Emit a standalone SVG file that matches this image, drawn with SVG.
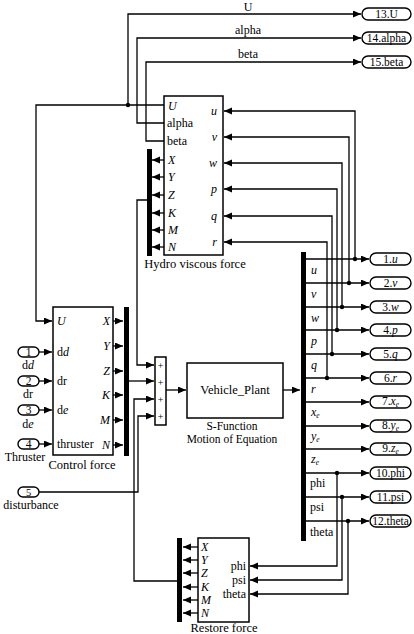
<svg xmlns="http://www.w3.org/2000/svg" width="414" height="634" viewBox="0 0 414 634">
<style>
text{font-family:"Liberation Serif","Times New Roman",serif;font-size:12px;fill:#000}
.it{font-style:italic}
.c{text-anchor:middle}
.e{text-anchor:end}
.cap{font-size:12.5px}
.cap2{font-size:11.5px}
.ov{font-size:11.5px}
.sub{font-size:7.5px}
.ln{stroke:#000;stroke-width:1.3;fill:none}
.ar{marker-end:url(#ah)}
.blk{fill:#fff;stroke:#000;stroke-width:1.5}
.oval{fill:#fff;stroke:#000;stroke-width:1.4}
.bar{fill:#000}
.dot{fill:#000}
</style>
<defs>
<marker id="ah" markerUnits="userSpaceOnUse" markerWidth="9" markerHeight="8" refX="8" refY="3.5" orient="auto">
<path d="M0,0 L8,3.5 L0,7 z" fill="#000"/>
</marker>
</defs>
<rect width="414" height="634" fill="#fff"/>

<g id="connectors">
<path class="ln ar" d="M164,105 H128 V14 H361"/>
<path class="ln ar" d="M128,105 H36 V321 H52"/>
<path class="ln ar" d="M164,123 H137 V38 H361"/>
<path class="ln ar" d="M164,141 H146 V62 H361"/>
<circle class="dot" cx="128" cy="105" r="2.2"/>
<path class="ln ar" d="M164,160 H152"/>
<path class="ln ar" d="M164,177 H152"/>
<path class="ln ar" d="M164,195 H152"/>
<path class="ln ar" d="M164,213 H152"/>
<path class="ln ar" d="M164,230 H152"/>
<path class="ln ar" d="M164,247 H152"/>
<path class="ln ar" d="M147,200 H137 V365 H154"/>
<path class="ln ar" d="M129,381 H154"/>
<path class="ln ar" d="M177,581 H134 V399 H154"/>
<path class="ln ar" d="M39,492 H138 V416 H154"/>
<path class="ln ar" d="M39,352 H52"/>
<path class="ln ar" d="M39,381 H52"/>
<path class="ln ar" d="M39,410 H52"/>
<path class="ln ar" d="M39,444 H52"/>
<path class="ln ar" d="M113,321 H123"/>
<path class="ln ar" d="M113,346 H123"/>
<path class="ln ar" d="M113,371 H123"/>
<path class="ln ar" d="M113,395 H123"/>
<path class="ln ar" d="M113,420 H123"/>
<path class="ln ar" d="M113,445 H123"/>
<path class="ln ar" d="M166,390 H186"/>
<path class="ln ar" d="M283,390 H300"/>
<path class="ln ar" d="M306,259 H369"/>
<path class="ln ar" d="M306,283 H369"/>
<path class="ln ar" d="M306,307 H369"/>
<path class="ln ar" d="M306,330 H369"/>
<path class="ln ar" d="M306,354 H369"/>
<path class="ln ar" d="M306,378 H369"/>
<path class="ln ar" d="M306,402 H369"/>
<path class="ln ar" d="M306,426 H369"/>
<path class="ln ar" d="M306,449 H369"/>
<path class="ln ar" d="M306,473 H369"/>
<path class="ln ar" d="M306,497 H369"/>
<path class="ln ar" d="M306,521 H369"/>
<path class="ln ar" d="M355,259 V111 H224"/>
<path class="ln ar" d="M349,283 V137 H224"/>
<path class="ln ar" d="M342,307 V163 H224"/>
<path class="ln ar" d="M337,330 V189 H224"/>
<path class="ln ar" d="M332,354 V216 H224"/>
<path class="ln ar" d="M327,378 V242 H224"/>
<circle class="dot" cx="355" cy="259" r="2.2"/>
<circle class="dot" cx="349" cy="283" r="2.2"/>
<circle class="dot" cx="342" cy="307" r="2.2"/>
<circle class="dot" cx="337" cy="330" r="2.2"/>
<circle class="dot" cx="332" cy="354" r="2.2"/>
<circle class="dot" cx="327" cy="378" r="2.2"/>
<path class="ln ar" d="M337,473 V566 H250"/>
<path class="ln ar" d="M342,497 V580 H250"/>
<path class="ln ar" d="M348,521 V594 H250"/>
<circle class="dot" cx="337" cy="473" r="2.2"/>
<circle class="dot" cx="342" cy="497" r="2.2"/>
<circle class="dot" cx="348" cy="521" r="2.2"/>
<path class="ln ar" d="M198,547 H183"/>
<path class="ln ar" d="M198,560 H183"/>
<path class="ln ar" d="M198,573 H183"/>
<path class="ln ar" d="M198,587 H183"/>
<path class="ln ar" d="M198,600 H183"/>
<path class="ln ar" d="M198,613 H183"/>
<text class="c" x="248" y="11">U</text>
<text class="c" x="248" y="34">alpha</text>
<text class="c" x="248" y="58">beta</text>
</g>

<g id="out13"><rect class="oval" x="362" y="8" width="49" height="12" rx="6"/><text class="c ov" x="386.5" y="18">13.U</text></g>
<g id="out14"><rect class="oval" x="362" y="32" width="49" height="12" rx="6"/><text class="c ov" x="386.5" y="42">14.alpha</text></g>
<g id="out15"><rect class="oval" x="362" y="56" width="49" height="12" rx="6"/><text class="c ov" x="386.5" y="66">15.beta</text></g>

<g id="hydro">
<rect class="blk" x="164" y="96" width="59" height="159"/>
<rect class="bar" x="147" y="149" width="5" height="107"/>
<text class="it" x="168" y="110">U</text>
<text x="167" y="127">alpha</text>
<text x="167" y="145">beta</text>
<text class="it" x="168" y="164">X</text>
<text class="it" x="168" y="181">Y</text>
<text class="it" x="168" y="199">Z</text>
<text class="it" x="168" y="217">K</text>
<text class="it" x="168" y="234">M</text>
<text class="it" x="168" y="251">N</text>
<text class="it e" x="217" y="115">u</text>
<text class="it e" x="217" y="141">v</text>
<text class="it e" x="217" y="167">w</text>
<text class="it e" x="217" y="193">p</text>
<text class="it e" x="217" y="220">q</text>
<text class="it e" x="217" y="246">r</text>
<text class="c cap" x="195" y="268">Hydro viscous force</text>
</g>

<g id="in1"><rect class="oval" x="18" y="347" width="21" height="10" rx="5"/><text class="c ov" x="28.5" y="356">1</text><text class="c" x="28" y="369">d<tspan class="it">d</tspan></text></g>
<g id="in2"><rect class="oval" x="18" y="376" width="21" height="10" rx="5"/><text class="c ov" x="28.5" y="385">2</text><text class="c" x="28" y="398">dr</text></g>
<g id="in3"><rect class="oval" x="18" y="405" width="21" height="10" rx="5"/><text class="c ov" x="28.5" y="414">3</text><text class="c" x="28" y="428">d<tspan class="it">e</tspan></text></g>
<g id="in4"><rect class="oval" x="18" y="439" width="21" height="10" rx="5"/><text class="c ov" x="28.5" y="448">4</text><text class="c" x="25" y="461">Thruster</text></g>
<g id="in5"><rect class="oval" x="18" y="487" width="21" height="10" rx="5"/><text class="c" x="28.5" y="495.5" style="font-size:10.5px">5</text><text class="c" x="31" y="509">disturbance</text></g>

<g id="control">
<rect class="blk" x="53" y="307" width="60" height="148"/>
<rect class="bar" x="124" y="307" width="5" height="149"/>
<text class="it" x="57" y="325">U</text>
<text x="57" y="356">d<tspan class="it">d</tspan></text>
<text x="57" y="385">dr</text>
<text x="57" y="414">d<tspan class="it">e</tspan></text>
<text x="57" y="448">thruster</text>
<text class="it e" x="110" y="325">X</text>
<text class="it e" x="110" y="350">Y</text>
<text class="it e" x="110" y="375">Z</text>
<text class="it e" x="110" y="399">K</text>
<text class="it e" x="110" y="424">M</text>
<text class="it e" x="110" y="449">N</text>
<text class="c cap" x="82" y="469">Control force</text>
</g>

<g id="sum">
<rect class="blk" x="155" y="357" width="11" height="68"/>
<text class="c" x="160.5" y="369" style="font-size:10px">+</text>
<text class="c" x="160.5" y="386" style="font-size:10px">+</text>
<text class="c" x="160.5" y="403" style="font-size:10px">+</text>
<text class="c" x="160.5" y="420" style="font-size:10px">+</text>
</g>

<g id="plant">
<rect class="blk" x="187" y="363" width="96" height="55"/>
<text class="c cap" x="235" y="394">Vehicle_Plant</text>
<text class="c cap2" x="232" y="430">S-Function</text>
<text class="c cap2" x="232" y="443">Motion of Equation</text>
</g>

<g id="demux">
<rect class="bar" x="301" y="252" width="5" height="289"/>
<text class="it" x="311" y="274">u</text>
<text class="it" x="311" y="298">v</text>
<text class="it" x="311" y="322">w</text>
<text class="it" x="311" y="345">p</text>
<text class="it" x="311" y="369">q</text>
<text class="it" x="311" y="393">r</text>
<text class="it" x="311" y="416">x<tspan class="sub" dy="2">e</tspan></text>
<text class="it" x="311" y="440">y<tspan class="sub" dy="2">e</tspan></text>
<text class="it" x="311" y="463">z<tspan class="sub" dy="2">e</tspan></text>
<text x="310" y="487">phi</text>
<text x="310" y="511">psi</text>
<text x="310" y="536">theta</text>
</g>

<g id="out1"><rect class="oval" x="370" y="253" width="41" height="12" rx="6"/><text class="c ov" x="390.5" y="263">1.<tspan class="it">u</tspan></text></g>
<g id="out2"><rect class="oval" x="370" y="277" width="41" height="12" rx="6"/><text class="c ov" x="390.5" y="287">2.<tspan class="it">v</tspan></text></g>
<g id="out3"><rect class="oval" x="370" y="301" width="41" height="12" rx="6"/><text class="c ov" x="390.5" y="311">3.<tspan class="it">w</tspan></text></g>
<g id="out4"><rect class="oval" x="370" y="324" width="41" height="12" rx="6"/><text class="c ov" x="390.5" y="334">4.<tspan class="it">p</tspan></text></g>
<g id="out5"><rect class="oval" x="370" y="348" width="41" height="12" rx="6"/><text class="c ov" x="390.5" y="358">5.<tspan class="it">q</tspan></text></g>
<g id="out6"><rect class="oval" x="370" y="372" width="41" height="12" rx="6"/><text class="c ov" x="390.5" y="382">6.<tspan class="it">r</tspan></text></g>
<g id="out7"><rect class="oval" x="370" y="396" width="41" height="12" rx="6"/><text class="c ov" x="390.5" y="405">7.<tspan class="it">x</tspan><tspan class="it sub" dy="2">e</tspan></text></g>
<g id="out8"><rect class="oval" x="370" y="420" width="41" height="12" rx="6"/><text class="c ov" x="390.5" y="429">8.<tspan class="it">y</tspan><tspan class="it sub" dy="2">e</tspan></text></g>
<g id="out9"><rect class="oval" x="370" y="443" width="41" height="12" rx="6"/><text class="c ov" x="390.5" y="452">9.<tspan class="it">z</tspan><tspan class="it sub" dy="2">e</tspan></text></g>
<g id="out10"><rect class="oval" x="370" y="467" width="41" height="12" rx="6"/><text class="c ov" x="390.5" y="477">10.phi</text></g>
<g id="out11"><rect class="oval" x="370" y="491" width="41" height="12" rx="6"/><text class="c ov" x="390.5" y="501">11.psi</text></g>
<g id="out12"><rect class="oval" x="370" y="515" width="41" height="12" rx="6"/><text class="c ov" x="390.5" y="525">12.theta</text></g>

<g id="restore">
<rect class="blk" x="198" y="538" width="51" height="84"/>
<rect class="bar" x="177" y="538" width="5" height="84"/>
<text class="it" x="201" y="551">X</text>
<text class="it" x="201" y="564">Y</text>
<text class="it" x="201" y="577">Z</text>
<text class="it" x="201" y="591">K</text>
<text class="it" x="201" y="604">M</text>
<text class="it" x="201" y="617">N</text>
<text class="e" x="246" y="570">phi</text>
<text class="e" x="246" y="584">psi</text>
<text class="e" x="246" y="598">theta</text>
<text class="c cap" x="224" y="632">Restore force</text>
</g>
</svg>
